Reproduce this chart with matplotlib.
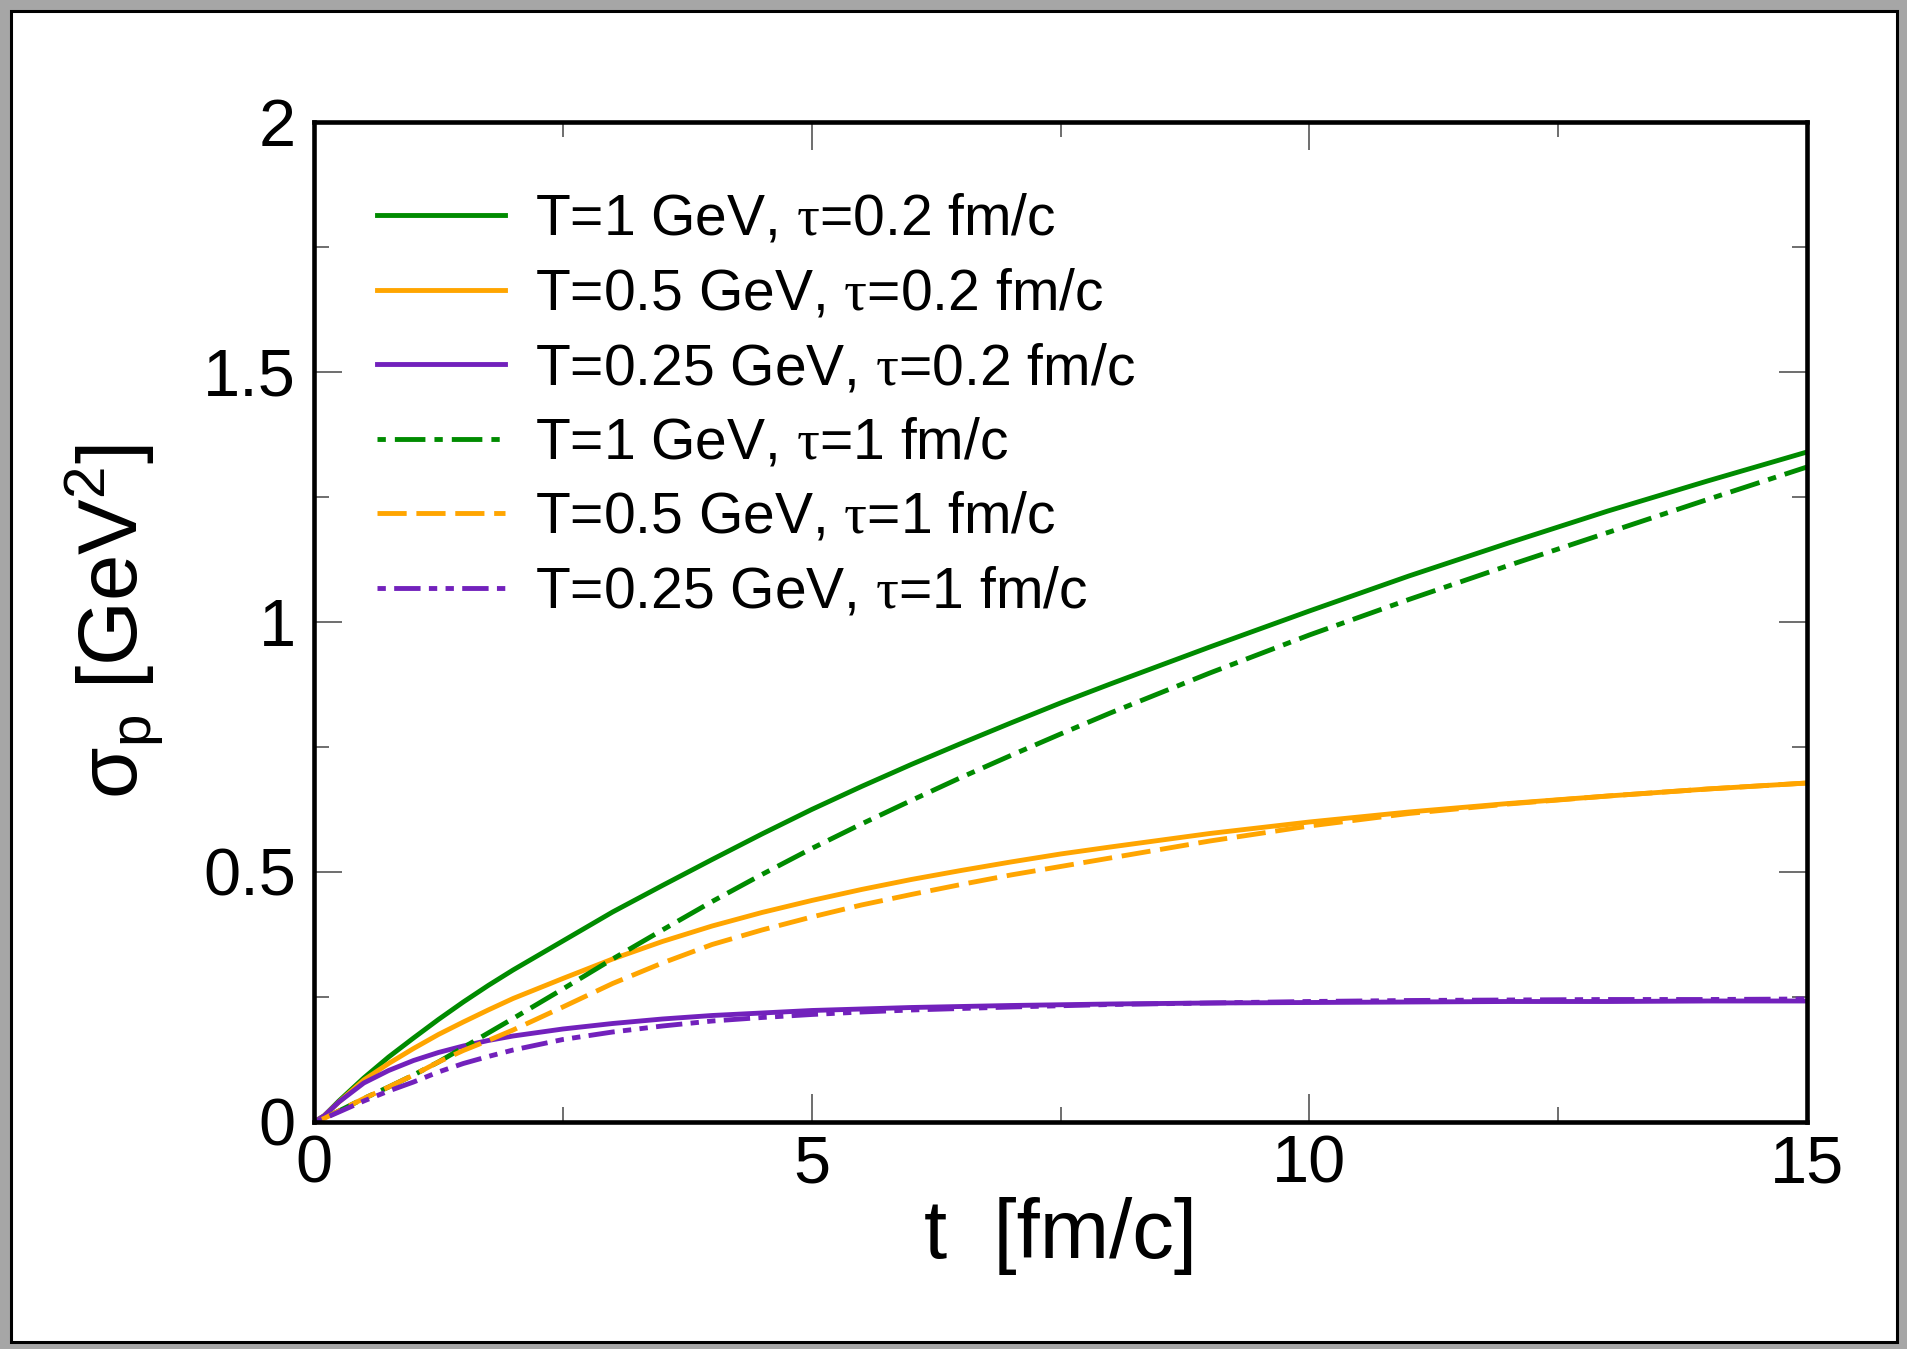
import matplotlib
matplotlib.use('Agg')
import matplotlib.pyplot as plt
from matplotlib.ticker import MultipleLocator, FuncFormatter
from matplotlib.patches import Rectangle

plt.rcParams['font.family'] = ['Liberation Sans', 'DejaVu Sans']
plt.rcParams['mathtext.fontset'] = 'custom'
plt.rcParams['mathtext.rm'] = 'Liberation Serif'
plt.rcParams['mathtext.sf'] = 'Liberation Sans'
plt.rcParams['lines.scale_dashes'] = False

# time grid [fm/c]
t = [0, 0.1, 0.25, 0.5, 0.75, 1, 1.25, 1.5, 1.75, 2, 2.5, 3, 3.5, 4, 4.5,
     5, 5.5, 6, 6.5, 7, 7.5, 8, 9, 10, 11, 12, 13, 14, 15]

# sigma_p [GeV^2], tau = 0.2 fm/c
T1_tau02 = [0, 0.012, 0.042, 0.088, 0.13, 0.168, 0.205, 0.24, 0.273, 0.304, 0.362,
            0.42, 0.473, 0.525, 0.576, 0.625, 0.671, 0.715, 0.757, 0.798, 0.838,
            0.876, 0.95, 1.022, 1.092, 1.158, 1.222, 1.282, 1.34]
T05_tau02 = [0, 0.012, 0.04, 0.084, 0.117, 0.147, 0.175, 0.2, 0.224, 0.247, 0.287,
             0.326, 0.361, 0.392, 0.419, 0.443, 0.465, 0.485, 0.503, 0.52, 0.536,
             0.55, 0.577, 0.6, 0.62, 0.637, 0.652, 0.666, 0.678]
T025_tau02 = [0, 0.012, 0.04, 0.078, 0.103, 0.123, 0.139, 0.152, 0.163, 0.172, 0.186,
              0.197, 0.206, 0.213, 0.218, 0.223, 0.226, 0.229, 0.231, 0.233, 0.2345,
              0.236, 0.238, 0.239, 0.24, 0.241, 0.241, 0.242, 0.242]

# sigma_p [GeV^2], tau = 1 fm/c
T1_tau1 = [0, 0.007, 0.022, 0.047, 0.07, 0.094, 0.12, 0.149, 0.178, 0.207, 0.266,
           0.326, 0.384, 0.441, 0.495, 0.547, 0.596, 0.643, 0.689, 0.733, 0.776,
           0.818, 0.898, 0.974, 1.045, 1.113, 1.179, 1.245, 1.31]
T05_tau1 = [0, 0.007, 0.022, 0.047, 0.07, 0.094, 0.12, 0.143, 0.163, 0.184, 0.23,
            0.277, 0.318, 0.355, 0.384, 0.41, 0.434, 0.455, 0.475, 0.494, 0.511,
            0.528, 0.562, 0.592, 0.617, 0.636, 0.652, 0.666, 0.678]
T025_tau1 = [0, 0.007, 0.02, 0.042, 0.062, 0.08, 0.1, 0.117, 0.131, 0.144, 0.165,
             0.18, 0.192, 0.202, 0.209, 0.215, 0.22, 0.224, 0.227, 0.23, 0.2325,
             0.235, 0.238, 0.241, 0.243, 0.244, 0.245, 0.245, 0.246]

labels = [r'T=1 GeV, $\mathrm{\tau}$=0.2 fm/c',
          r'T=0.5 GeV, $\mathrm{\tau}$=0.2 fm/c',
          r'T=0.25 GeV, $\mathrm{\tau}$=0.2 fm/c',
          r'T=1 GeV, $\mathrm{\tau}$=1 fm/c',
          r'T=0.5 GeV, $\mathrm{\tau}$=1 fm/c',
          r'T=0.25 GeV, $\mathrm{\tau}$=1 fm/c']

green = '#008b00'
orange = '#ffa500'
indigo = '#7221bc'

fig = plt.figure(figsize=(19.08, 13.49), dpi=100, facecolor='#a6a6a6')
# white page with black border inside the gray frame
fig.patches.append(Rectangle((11 / 1908, 1 - 1342 / 1349), 1886 / 1908, 1331 / 1349,
                             transform=fig.transFigure, facecolor='white',
                             edgecolor='black', linewidth=2.2, zorder=-10))

ax = fig.add_axes([314 / 1908, 1 - 1122 / 1349, 1493 / 1908, 1000 / 1349])
ax.set_zorder(5)

lw = 3.5
ax.plot(t, T1_tau02, color=green, lw=lw, label=labels[0])
ax.plot(t, T05_tau02, color=orange, lw=lw, label=labels[1])
ax.plot(t, T025_tau02, color=indigo, lw=lw, label=labels[2])
ax.plot(t, T1_tau1, color=green, lw=lw, label=labels[3],
        linestyle=(28.5, (22, 6.5, 6, 6.5)))
ax.plot(t, T05_tau1, color=orange, lw=lw, label=labels[4],
        linestyle=(0, (21, 7)))
ax.plot(t, T025_tau1, color=indigo, lw=lw, label=labels[5],
        linestyle=(37, (19, 6, 6, 6, 6, 6)))

ax.set_xlim(0, 15)
ax.set_ylim(0, 2)
ax.xaxis.set_major_locator(MultipleLocator(5))
ax.xaxis.set_minor_locator(MultipleLocator(2.5))
ax.yaxis.set_major_locator(MultipleLocator(0.5))
ax.yaxis.set_minor_locator(MultipleLocator(0.25))
fmt = FuncFormatter(lambda v, p: '%g' % v)
ax.xaxis.set_major_formatter(fmt)
ax.yaxis.set_major_formatter(fmt)

ax.tick_params(which='both', direction='in', top=True, right=True,
               color='#555555', width=1.2, labelsize=48)
ax.tick_params(axis='x', which='major', pad=9)
ax.tick_params(axis='y', which='major', pad=13)
ax.tick_params(which='major', length=20)
ax.tick_params(which='minor', length=10.5)
for s in ax.spines.values():
    s.set_linewidth(3.3)

ax.set_xlabel('t  [fm/c]', fontsize=60)
ax.set_ylabel(r'σ$_{\mathsf{p}}$ [GeV$^{\mathsf{2}}$]', fontsize=60)
ax.xaxis.set_label_coords(0.5, -0.075)
ax.yaxis.set_label_coords(-0.099, 0.5)

ax.legend(loc='upper left', bbox_to_anchor=(0.042, 0.929), frameon=False,
          fontsize=41, borderpad=0, borderaxespad=0, handlelength=2.25,
          handletextpad=0.53, labelspacing=0.36)

fig.savefig('out.png', dpi=100, facecolor=fig.get_facecolor())
